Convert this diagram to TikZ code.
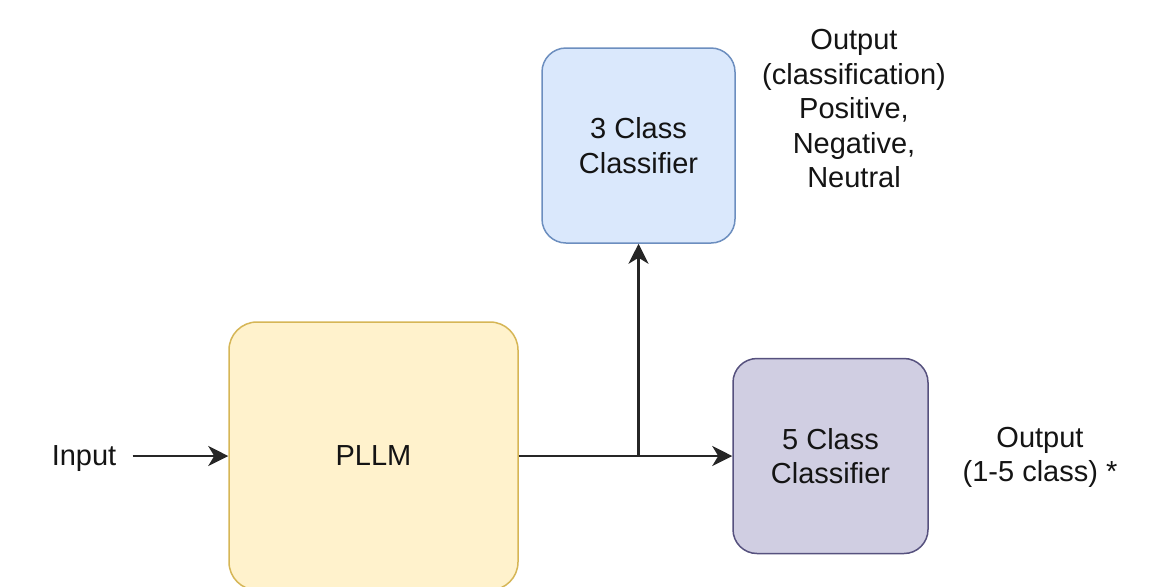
\documentclass[tikz,border=0pt]{standalone}
\usepackage{fontspec}
\setmainfont{Liberation Sans}
\usepackage{xcolor}
\usetikzlibrary{arrows.meta}

\definecolor{llmfill}{HTML}{FFF2CC}
\definecolor{llmline}{HTML}{D6B656}
\definecolor{threefill}{HTML}{DAE8FC}
\definecolor{threeline}{HTML}{6C8EBF}
\definecolor{fivefill}{HTML}{D0CEE2}
\definecolor{fiveline}{HTML}{56517E}

\begin{document}
\begin{tikzpicture}[x=0.5pt, y=-0.5pt,
    txt/.style={align=center, text=black!92, font=\fontsize{14.5}{17.25}\selectfont},
    box/.style={txt, draw, rounded corners=12pt, line width=0.75pt, inner sep=0pt},
    arr/.style={-{Stealth[length=10pt, width=10pt, inset=3pt]}, line width=1.2pt, draw=black!85}]
    \clip (0, 0) rectangle (1161, 586);
    \fill [white] (0, 0) rectangle (1161, 586);
    \node [txt, inner xsep=8pt] (0) at (84, 459) {Input};
    % language model
    \node [box, fill=llmfill, draw=llmline, rounded corners=14pt,
        minimum width=144.5pt, minimum height=134pt] (1) at (373.5, 456) {PLLM};
    % classifiers
    \node [box, fill=threefill, draw=threeline,
        minimum width=96.5pt, minimum height=97.5pt] (2) at (638.5, 145.5) {3 Class\\Classifier};
    \node [box, fill=fivefill, draw=fiveline,
        minimum width=97.5pt, minimum height=97.5pt] (3) at (830.5, 456) {5 Class\\Classifier};
    % outputs
    \node [txt] (4) at (854, 109) {Output\\(classification)\\Positive,\\Negative,\\Neutral};
    \node [txt] (5) at (1040, 457.5) {Output\\(1-5 class) *};
    \draw [arr] (0.east |- 1.west) to (1.west);
    \draw [arr] (1.east) -| (2.south);
    \draw [arr] (1.east) to (3.west);
\end{tikzpicture}
\end{document}
